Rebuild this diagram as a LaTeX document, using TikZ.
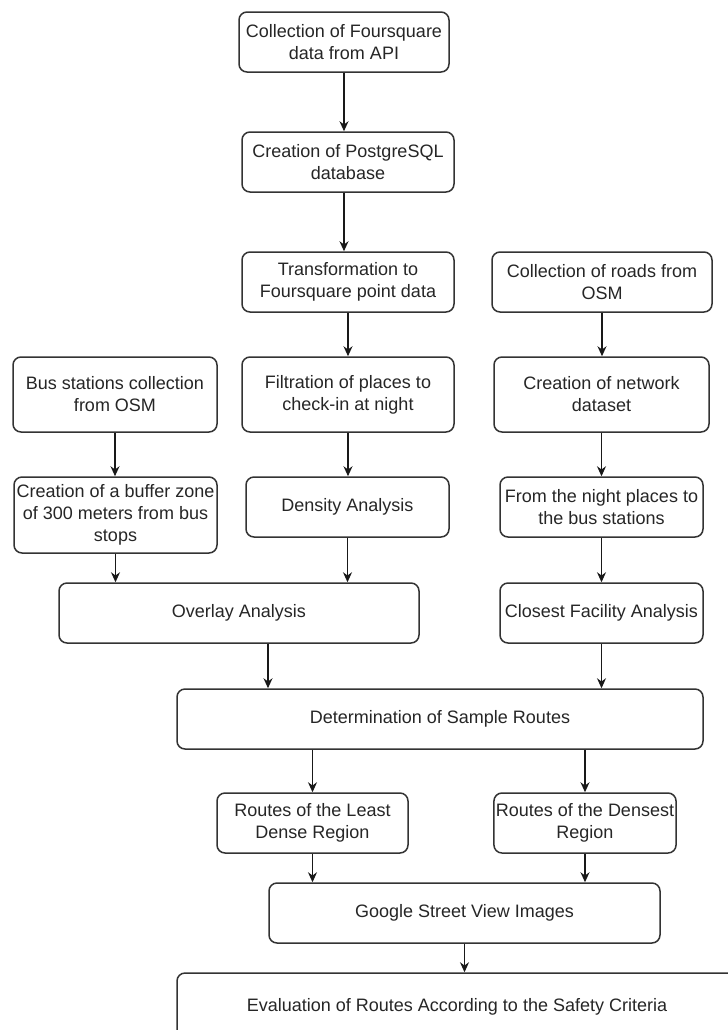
\documentclass[tikz,border=0pt]{standalone}
\usepackage{fontspec}
\setmainfont{Liberation Sans}
\usetikzlibrary{arrows.meta, positioning}

\begin{document}
\begin{tikzpicture}[x=0.5pt, y=-0.5pt,
  box/.style={draw=black!80, line width=0.75pt, rounded corners=4pt, fill=white,
    align=center, inner sep=1pt, text=black!85, font=\fontsize{9}{11}\selectfont},
  arr/.style={-{Stealth[length=5pt, width=4.5pt]}, line width=0.7pt, black!90}]
\clip (0,0) rectangle (728,1030);

% middle column
\node[box, minimum width=105pt, minimum height=30pt] (col) at (344,42) {Collection of Foursquare\\data from API};
\node[box, minimum width=106pt, minimum height=30pt] (pg) at (348,162) {Creation of PostgreSQL\\database};
\node[box, minimum width=106pt, minimum height=30pt] (trans) at (348,282) {Transformation to\\Foursquare point data};
\node[box, minimum width=106pt, minimum height=37.5pt] (filt) at (348,394.5) {Filtration of places to\\check-in at night};
\node[box, minimum width=101.5pt, minimum height=30pt] (dens) at (347.5,507) {Density Analysis};

% left column
\node[box, minimum width=102pt, minimum height=37.5pt] (bus) at (115,394.5) {Bus stations collection\\from OSM};
\node[box, minimum width=101.5pt, minimum height=38pt] (buf) at (115.5,515) {Creation of a buffer zone\\of 300 meters from bus\\stops};
\node[box, minimum width=180pt, minimum height=30pt] (over) at (239,613) {Overlay Analysis};

% right column
\node[box, minimum width=110pt, minimum height=30pt] (roads) at (602,282) {Collection of roads from\\OSM};
\node[box, minimum width=107.5pt, minimum height=37.5pt] (net) at (601.5,394.5) {Creation of network\\dataset};
\node[box, minimum width=101.5pt, minimum height=30pt] (night) at (601.5,507) {From the night places to\\the bus stations};
\node[box, minimum width=101.5pt, minimum height=30pt] (close) at (601.5,613) {Closest Facility Analysis};

% routes
\node[box, minimum width=263pt, minimum height=30pt] (det) at (440,719) {Determination of Sample Routes};
\node[box, minimum width=95.5pt, minimum height=30pt] (least) at (312.5,823) {Routes of the Least\\Dense Region};
\node[box, minimum width=91pt, minimum height=30pt] (densest) at (585,823) {Routes of the Densest\\Region};
\node[box, minimum width=195.5pt, minimum height=30pt] (google) at (464.5,913) {Google Street View Images};
\node[box, minimum width=280pt, minimum height=34pt] (eval) at (457,1007) {Evaluation of Routes According to the Safety Criteria};

% arrows
\draw[arr] (col) -- (col |- pg.north);
\draw[arr] (col |- pg.south) -- (col |- trans.north);
\draw[arr] (trans) -- (trans |- filt.north);
\draw[arr] (filt) -- (filt |- dens.north);
\draw[arr] (bus) -- (bus |- buf.north);
\draw[arr] (roads) -- (roads |- net.north);
\draw[arr] (net) -- (net |- night.north);
\draw[arr] (night) -- (night |- close.north);
\draw[arr] (buf) -- (buf |- over.north);
\draw[arr] (dens) -- (dens |- over.north);
\draw[arr] ([xshift=14.5pt]over.south) -- ([xshift=14.5pt]over.south |- det.north);
\draw[arr] (close) -- (close |- det.north);
\draw[arr] (least |- det.south) -- (least.north);
\draw[arr] (densest |- det.south) -- (densest.north);
\draw[arr] (least) -- (least |- google.north);
\draw[arr] (densest) -- (densest |- google.north);
\draw[arr] (google) -- (google |- eval.north);
\end{tikzpicture}
\end{document}
